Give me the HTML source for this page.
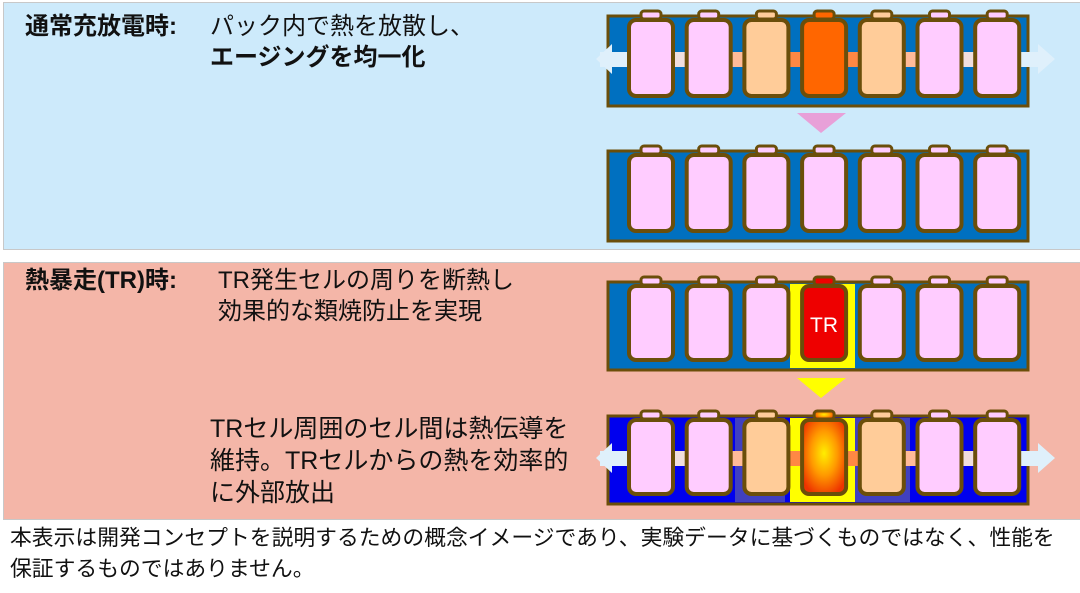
<!DOCTYPE html>
<html><head><meta charset="utf-8"><style>
body{margin:0;width:1080px;height:593px;background:#fff;position:relative;overflow:hidden;font-family:"Liberation Sans","Noto Sans CJK JP",sans-serif;color:#111}
.p{position:absolute}
.t{position:absolute;font-size:24px;line-height:31px;white-space:nowrap}
</style></head><body>
<div class="p" style="left:3px;top:2px;width:1077px;height:246px;background:#cdeafb;border:1px solid #c8c8c8"></div>
<div class="p" style="left:3px;top:262px;width:1077px;height:256px;background:#f4b6a8;border:1px solid #c8c8c8"></div>
<div class="t" style="left:25px;top:11px;font-weight:bold">通常充放電時:</div>
<div class="t" style="left:210px;top:11px">パック内で熱を放散し、</div>
<div class="t" style="left:210px;top:42px;font-weight:bold">エージングを均一化</div>
<div class="t" style="left:25px;top:265px;font-weight:bold">熱暴走(TR)時:</div>
<div class="t" style="left:218px;top:265px">TR発生セルの周りを断熱し</div>
<div class="t" style="left:218px;top:296px">効果的な類焼防止を実現</div>
<div class="t" style="left:210px;top:414px;font-size:25px">TRセル周囲のセル間は熱伝導を</div>
<div class="t" style="left:210px;top:446px;font-size:25px">維持。TRセルからの熱を効率的</div>
<div class="t" style="left:210px;top:478px;font-size:25px">に外部放出</div>
<div class="t" style="left:10px;top:522px;font-size:21.8px;line-height:31px">本表示は開発コンセプトを説明するための概念イメージであり、実験データに基づくものではなく、性能を<br>保証するものではありません。</div>
<svg class="p" style="left:0;top:0" width="1080" height="593" id="s">
<defs><radialGradient id="g" cx="50%" cy="45%" r="60%"><stop offset="0" stop-color="#ffee00"/><stop offset="0.5" stop-color="#ff9900"/><stop offset="1" stop-color="#ee3300"/></radialGradient></defs>
</svg>
<script>
var s=document.getElementById('s'),h='';
function pack(y,H,bg,fills,bar,arrows,yellow,tr){
 h+='<rect x="608" y="'+y+'" width="420" height="'+H+'" fill="'+bg+'" stroke="#6b4e0a" stroke-width="3"/>';
 if(yellow)h+='<rect x="790" y="'+(y+2)+'" width="65" height="'+(H-4)+'" fill="#ffff00"/>';
 if(tr==2){h+='<rect x="735" y="'+(y+2)+'" width="50" height="'+(H-4)+'" fill="#4040c0"/><rect x="855" y="'+(y+2)+'" width="55" height="'+(H-4)+'" fill="#4040c0"/><rect x="790" y="'+(y+2)+'" width="65" height="'+(H-4)+'" fill="#ffff00"/>';}
 var my=y+H/2-2;
 if(arrows){h+='<rect x="600" y="'+(my-7)+'" width="440" height="15" fill="#dff0fb"/>';}
 if(bar){for(var i=0;i<6;i++){h+='<rect x="'+(670+i*57.7)+'" y="'+(my-7)+'" width="20" height="15" fill="'+bar[i]+'"/>';}}
 if(arrows){h+='<polygon points="612,'+(my-15)+' 596,'+my+' 612,'+(my+15)+'" fill="#dff0fb"/>';
  h+='<polygon points="1038,'+(my-15)+' 1055,'+my+' 1038,'+(my+15)+'" fill="#dff0fb"/>';}
 for(var i=0;i<7;i++){var x=629+i*57.7;
  h+='<rect x="'+(x+12)+'" y="'+(y-5)+'" width="20" height="8" rx="3" fill="'+fills[i]+'" stroke="#6b4e0a" stroke-width="3"/>';
  h+='<rect x="'+x+'" y="'+(y+4)+'" width="44" height="'+(H-14)+'" rx="7" fill="'+fills[i]+'" stroke="#6b4e0a" stroke-width="4"/>';}
}
var P='#ffccff',O='#ffcc99';
var bar=['#f0dede','#ffbb99','#ff8844','#ff8844','#ffbb99','#f0dede'];
pack(16,90,'#0070c0',[P,P,O,'#ff6600',O,P,P],bar,1);
h+='<polygon points="797,113 846,113 821,133" fill="#e8a0d8"/>';
pack(151,90,'#0070c0',[P,P,P,P,P,P,P]);
pack(282,88,'#0070c0',[P,P,P,'#ee0000',P,P,P],null,0,1);
h+='<text x="824" y="332" font-size="21" fill="#fff" text-anchor="middle" font-family="Liberation Sans">TR</text>';
h+='<polygon points="797,378 846,378 821,398" fill="#ffff00"/>';
pack(416,88,'#0000ee',[P,P,O,'url(#g)',O,P,P],bar,1,0,2);
s.innerHTML+=h;
</script>
</body></html>
